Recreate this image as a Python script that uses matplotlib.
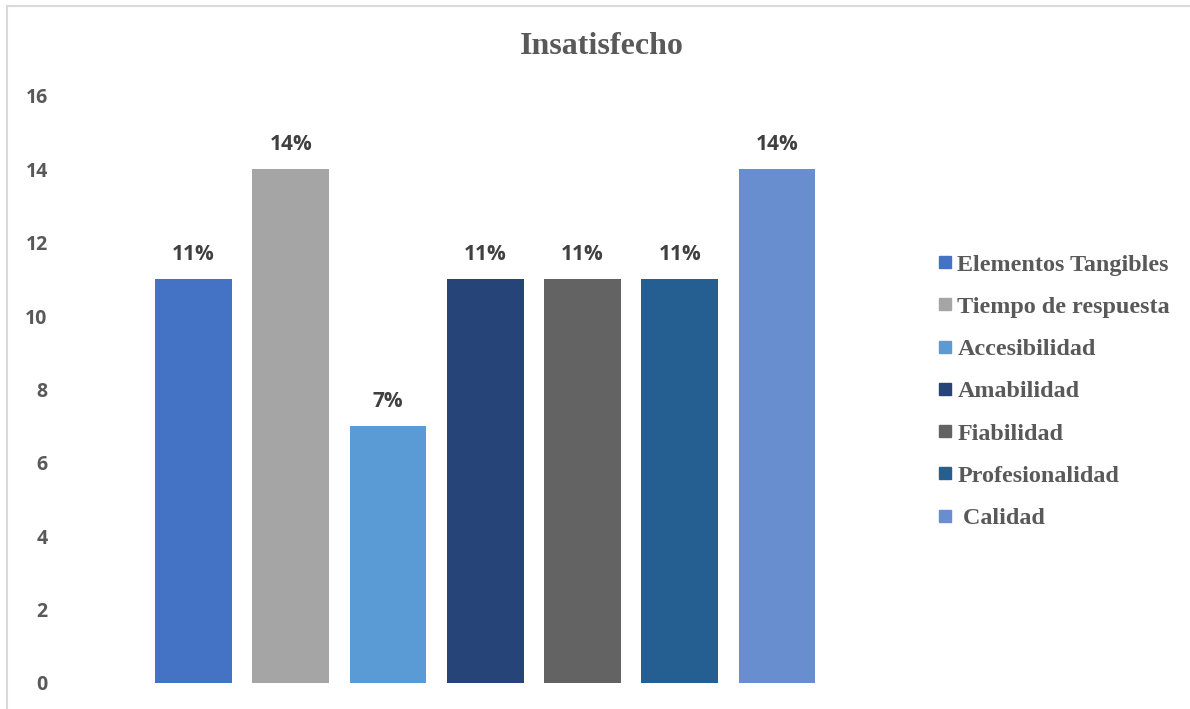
import matplotlib.pyplot as plt
from matplotlib.patches import Rectangle
from matplotlib.lines import Line2D

# Datos
categorias = ['Elementos Tangibles', 'Tiempo de respuesta', 'Accesibilidad',
              'Amabilidad', 'Fiabilidad', 'Profesionalidad', ' Calidad']
valores = [11, 14, 7, 11, 11, 11, 14]
etiquetas = ['11%', '14%', '7%', '11%', '11%', '11%', '14%']
colores = ['#4472C4', '#A5A5A5', '#5B9BD5', '#264478', '#636363', '#255E91', '#698ED0']

fig = plt.figure(figsize=(11.9, 7.09), dpi=100)
ax = fig.add_axes([0.1218, 0.0367, 0.572, 0.828])

x = list(range(len(valores)))
ax.bar(x, valores, width=0.79, color=colores)

for xi, v, t in zip(x, valores, etiquetas):
    ax.annotate(t, (xi, v), xytext=(0, 18), textcoords='offset points',
                ha='center', va='center', fontsize=15, fontweight='bold',
                color='#404040', family='Open Sans')

ax.set_xlim(-0.5, 6.5)
ax.set_ylim(0, 16)
ax.set_yticks(range(0, 17, 2))
ax.set_xticks([])
for s in ax.spines.values():
    s.set_visible(False)
ax.tick_params(axis='y', length=0, pad=70, labelsize=14, labelcolor='#595959')
for lbl in ax.get_yticklabels():
    lbl.set_fontweight('bold')
    lbl.set_family('Open Sans')

fig.text(0.506, 0.934, 'Insatisfecho', ha='center', va='center', fontsize=23,
         fontweight='bold', color='#595959', family='Liberation Serif')

# Leyenda
handles = [Line2D([], [], marker='s', linestyle='', markersize=9, color=c) for c in colores]
leg = fig.legend(handles, categorias, loc='center left', bbox_to_anchor=(0.767, 0.448),
                 frameon=False, handletextpad=0.05, labelspacing=0.84, handlelength=0.9,
                 prop={'family': 'Liberation Serif', 'weight': 'bold', 'size': 17.4})
for t in leg.get_texts():
    t.set_color('#595959')

# Borde
fig.patches.append(Rectangle((7 / 1190, -0.1), 1.2, (709 - 6) / 709 + 0.1,
                             transform=fig.transFigure, fill=False,
                             edgecolor='#D9D9D9', linewidth=1.5))

fig.savefig('out.png', dpi=100)
